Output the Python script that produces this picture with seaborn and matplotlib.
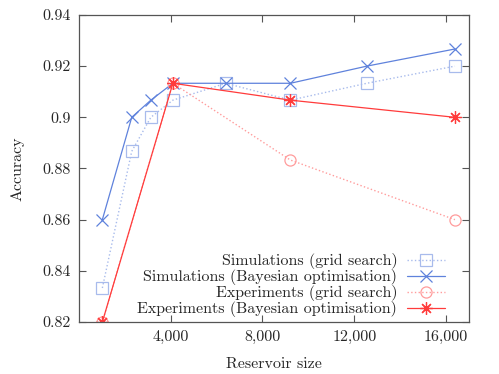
import numpy as np
import pandas as pd
import seaborn as sns
import matplotlib.pyplot as plt
from matplotlib.ticker import FuncFormatter

# Data
sizes = [1024, 2304, 3136, 4096, 6400, 9216, 12544, 16384]
sim_grid = [0.8333, 0.8867, 0.9000, 0.9067, 0.9133, 0.9067, 0.9133, 0.9200]
sim_bayes = [0.8600, 0.9000, 0.9067, 0.9133, 0.9133, 0.9133, 0.9200, 0.9267]
exp_sizes = [1024, 4096, 9216, 16384]
exp_grid = [0.8200, 0.9133, 0.8833, 0.8600]
exp_bayes = [0.8200, 0.9133, 0.9067, 0.9000]

x_ticks = [4000, 8000, 12000, 16000]
y_ticks = [0.82, 0.84, 0.86, 0.88, 0.90, 0.92, 0.94]

# Style
sns.set_style('ticks')
plt.rcParams['font.family'] = 'serif'
plt.rcParams['font.serif'] = ['cmr10', 'DejaVu Serif']
plt.rcParams['axes.formatter.use_mathtext'] = True
plt.rcParams['mathtext.fontset'] = 'cm'

blue = '#5f82dc'
light_blue = '#a8bbec'
red = '#ff3b3b'
light_red = '#ff9c9c'

fig = plt.figure(figsize=(4.99, 3.74), dpi=100)
ax = fig.add_axes([0.158, 0.139, 0.782, 0.821])

sns.lineplot(x=sizes, y=sim_grid, ax=ax, color=light_blue, linestyle=':', lw=1,
             marker='s', markersize=8, markerfacecolor='none', markeredgecolor=light_blue,
             markeredgewidth=0.9, label='Simulations (grid search)')
sns.lineplot(x=sizes, y=sim_bayes, ax=ax, color=blue, linestyle='-', lw=0.9,
             marker='x', markersize=9, markeredgecolor=blue, markeredgewidth=0.9,
             label='Simulations (Bayesian optimisation)')
sns.lineplot(x=exp_sizes, y=exp_grid, ax=ax, color=light_red, linestyle=':', lw=1,
             marker='o', markersize=8, markerfacecolor='none', markeredgecolor=light_red,
             markeredgewidth=0.9, label='Experiments (grid search)')
sns.lineplot(x=exp_sizes, y=exp_bayes, ax=ax, color=red, linestyle='-', lw=0.9,
             marker=(8, 2, 0), markersize=9, markeredgecolor=red, markeredgewidth=0.9,
             label='Experiments (Bayesian optimisation)')

ax.set_xlim(0, 17000)
ax.set_ylim(0.82, 0.94)
ax.set_xticks(x_ticks)
ax.set_yticks(y_ticks)
ax.xaxis.set_major_formatter(FuncFormatter(lambda v, p: '{:,.0f}'.format(v)))
ax.yaxis.set_major_formatter(FuncFormatter(lambda v, p: '%g' % round(v, 2)))
ax.tick_params(direction='in', top=True, right=True, length=5, width=0.8,
               color='#555555', labelsize=11.5, pad=6)
for s in ax.spines.values():
    s.set_color('#555555')
    s.set_linewidth(0.9)

ax.set_xlabel('Reservoir size', fontsize=11.5, labelpad=9)
ax.set_ylabel('Accuracy', fontsize=11.5, labelpad=13)

ax.legend(loc='lower right', frameon=False, markerfirst=False, fontsize=11.5,
          handlelength=2.4, handletextpad=0.6, labelspacing=0.0,
          borderaxespad=0.0, bbox_to_anchor=(0.955, -0.005))

plt.savefig('out.png', dpi=100)
